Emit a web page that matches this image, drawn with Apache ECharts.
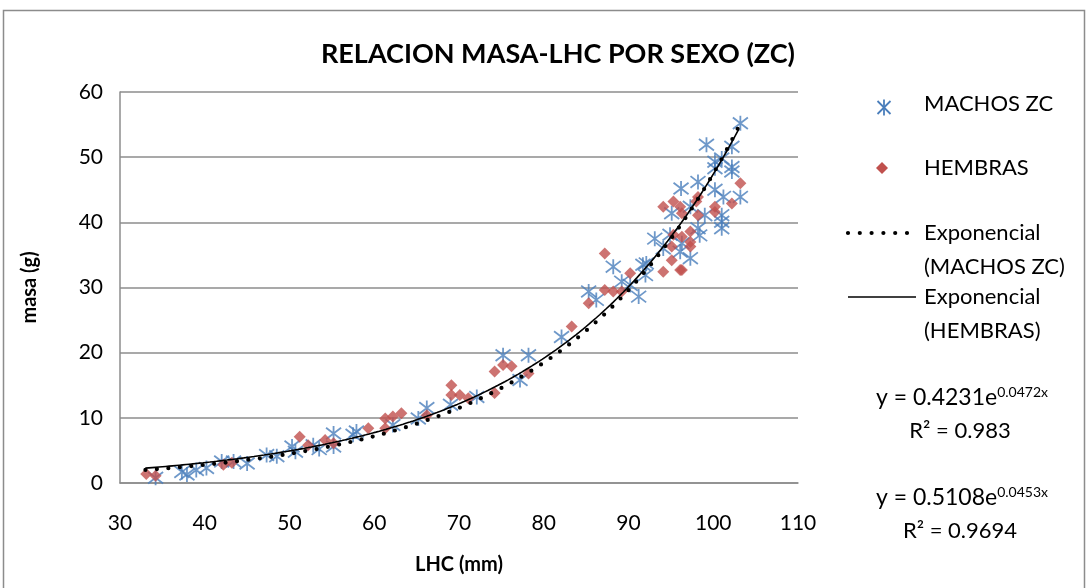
<!DOCTYPE html>
<html>
<head>
<meta charset="utf-8">
<script src="https://cdn.jsdelivr.net/npm/echarts@6/dist/echarts.min.js"></script>
<style>
html,body{margin:0;padding:0;background:#fff;}
#chart{width:1087px;height:588px;}
</style>
</head>
<body>
<div id="chart"></div>
<script>
// ---- Data ----
const machosZC = [
  [34.2,0.8],[37.3,1.7],[37.9,1.3],[39.0,2.0],[40.2,2.3],[42.0,3.3],[43.4,3.3],[45.0,3.0],
  [47.3,4.3],[48.5,4.1],[50.3,5.6],[50.7,4.8],[52.8,5.8],[53.5,5.2],[55.2,7.6],[55.2,5.6],
  [57.5,7.4],[57.9,7.9],[62.2,8.9],[65.2,9.9],[66.2,11.5],[69.0,12.0],[72.1,13.2],[75.2,19.6],
  [77.2,15.8],[78.2,19.6],[82.1,22.4],[85.3,29.4],[86.2,28.1],[88.2,33.2],[89.2,30.9],[90.2,30.4],
  [91.2,28.6],[91.7,33.5],[92.0,31.9],[92.1,33.7],[93.1,37.5],[94.1,36.0],[94.9,38.1],[95.1,41.4],
  [96.1,35.5],[96.2,45.2],[96.3,36.8],[97.3,42.4],[97.3,34.5],[98.2,46.2],[98.2,39.1],[98.4,38.0],
  [99.0,41.1],[99.2,51.9],[100.2,49.3],[100.2,45.0],[100.2,48.3],[101.0,49.8],[101.0,41.1],[101.0,40.1],
  [101.0,39.1],[101.2,43.9],[102.2,51.6],[102.2,48.5],[102.2,47.8],[103.2,55.2],[103.2,43.9]
];
const hembras = [
  [33.1,1.4],[34.2,1.1],[42.2,2.8],[43.2,3.1],[51.2,7.1],[52.2,5.8],[54.2,6.6],[55.2,6.1],
  [59.3,8.4],[61.3,9.9],[61.3,8.4],[62.2,10.2],[63.2,10.7],[66.2,10.4],[69.1,15.0],[69.1,13.5],
  [70.1,13.5],[71.1,13.0],[74.2,17.1],[74.2,13.8],[75.2,18.1],[76.2,17.9],[78.2,16.8],[83.3,24.0],
  [85.3,27.6],[87.2,35.2],[87.2,29.6],[88.2,29.4],[89.2,29.4],[90.2,32.2],[94.1,32.4],[94.1,42.4],
  [95.1,34.2],[95.3,43.2],[95.3,38.1],[95.1,36.3],[96.1,42.4],[96.3,41.4],[96.3,37.8],[96.1,32.7],
  [96.3,32.7],[97.3,38.6],[97.3,37.0],[97.3,36.3],[98.0,43.2],[98.2,43.9],[98.2,41.1],[100.2,42.4],
  [100.2,41.6],[102.2,42.9],[103.2,46.0]
];
// Exponential trendline coefficients as printed on the chart: y = a * e^(b x)
const trendMachos = [0.4231, 0.0472];
const trendHembras = [0.5108, 0.0453];
const trendRange = [33, 103.2];
const xTicks = [30, 40, 50, 60, 70, 80, 90, 100, 110];
const yTicks = [0, 10, 20, 30, 40, 50, 60];
const seriesNames = ['MACHOS ZC', 'HEMBRAS', 'Exponencial (MACHOS ZC)', 'Exponencial (HEMBRAS)'];
const eqTexts = [['y = 0.4231e', '0.0472x', 'R² = 0.983'], ['y = 0.5108e', '0.0453x', 'R² = 0.9694']];

function trendPoints(coef) {
  const pts = [];
  for (let x = trendRange[0]; x <= trendRange[1] + 1e-9; x += 0.4) {
    pts.push([x, coef[0] * Math.exp(coef[1] * x)]);
  }
  return pts;
}

const FONT = 'Lato';
const BLUE = '#4A7EBB';
const RED = '#C0504D';
const STAR = 'path://M0,0L10,10M10,0L0,10M5,-1.5L5,11.5';
const LEG = 22;

const chart = echarts.init(document.getElementById('chart'), null, {renderer: 'canvas'});

function eq(y, t) {
  return {type: 'text', x: 962, y: y, style: {
    text: '{b|' + t[0] + '}{s|' + t[1] + '}', align: 'center', verticalAlign: 'middle', fontFamily: FONT,
    rich: {b: {fontSize: 23, fontFamily: FONT, color: '#000'},
           s: {fontSize: 14, fontFamily: FONT, color: '#000', verticalAlign: 'top', padding: [0, 0, 12, 0]}}}};
}

const option = {
  animation: false,
  backgroundColor: '#fff',
  textStyle: {fontFamily: FONT},
  title: {
    text: 'RELACION MASA-LHC POR SEXO (ZC)',
    left: 553, top: 36, textAlign: 'center',
    textStyle: {fontFamily: FONT, fontWeight: 'bold', fontSize: 27, color: '#000'}
  },
  grid: {left: 120, top: 92, width: 678, height: 391, containLabel: false},
  xAxis: {
    type: 'value', min: 30, max: 110, interval: 10,
    name: 'LHC (mm)', nameLocation: 'middle', nameGap: 72,
    nameTextStyle: {fontFamily: FONT, fontWeight: 'bold', fontSize: 20, color: '#000'},
    axisLine: {show: true, lineStyle: {color: '#8C8C8C', width: 1.5}},
    axisTick: {show: false},
    splitLine: {show: false},
    axisLabel: {fontFamily: FONT, fontSize: 21, color: '#000', margin: 30,
      formatter: v => xTicks.includes(v) ? String(v) : ''}
  },
  yAxis: {
    type: 'value', min: 0, max: 60, interval: 10,
    name: 'masa (g)', nameLocation: 'middle', nameGap: 80, nameRotate: 90,
    nameTextStyle: {fontFamily: FONT, fontWeight: 'bold', fontSize: 20, color: '#000'},
    axisLine: {show: true, lineStyle: {color: '#8C8C8C', width: 1.5}},
    axisTick: {show: false},
    splitLine: {show: true, lineStyle: {color: '#8C8C8C', width: 1.5}},
    axisLabel: {fontFamily: FONT, fontSize: 21, color: '#000', margin: 17,
      formatter: v => yTicks.includes(v) ? String(v) : ''}
  },
  series: [
    {
      name: seriesNames[0], type: 'scatter', data: machosZC,
      symbol: STAR, symbolSize: 15,
      itemStyle: {color: 'rgba(0,0,0,0)', borderColor: BLUE, borderWidth: 1.8},
      z: 2
    },
    {
      name: seriesNames[1], type: 'scatter', data: hembras,
      symbol: 'diamond', symbolSize: [12, 12],
      itemStyle: {color: RED},
      z: 3
    },
    {
      name: seriesNames[2], type: 'line', data: trendPoints(trendMachos),
      showSymbol: false, symbol: 'none', smooth: false,
      lineStyle: {color: '#000', width: 4.2, type: [0, 11.5], cap: 'round'},
      z: 5
    },
    {
      name: seriesNames[3], type: 'line', data: trendPoints(trendHembras),
      showSymbol: false, symbol: 'none', smooth: false,
      lineStyle: {color: '#000', width: 1.6, type: 'solid'},
      z: 4
    }
  ],
  graphic: [
    {type: 'rect', shape: {x: 3.5, y: 10.5, width: 1081, height: 600},
     style: {fill: 'none', stroke: '#8C8C8C', lineWidth: 1.5}, silent: true},
    // legend: star marker
    {type: 'group', left: 875, top: 97, children: [
      {type: 'line', shape: {x1: 0, y1: 0, x2: 13, y2: 13}, style: {stroke: BLUE, lineWidth: 1.8}},
      {type: 'line', shape: {x1: 13, y1: 0, x2: 0, y2: 13}, style: {stroke: BLUE, lineWidth: 1.8}},
      {type: 'line', shape: {x1: 6.5, y1: -1.5, x2: 6.5, y2: 14.5}, style: {stroke: BLUE, lineWidth: 1.8}}
    ]},
    {type: 'text', x: 924, y: 104, style: {text: seriesNames[0], verticalAlign: 'middle', fontFamily: FONT, fontSize: LEG, fill: '#000'}},
    {type: 'polygon', shape: {points: [[882, 162], [888, 168], [882, 174], [876, 168]]}, style: {fill: RED}},
    {type: 'text', x: 924, y: 168, style: {text: seriesNames[1], verticalAlign: 'middle', fontFamily: FONT, fontSize: LEG, fill: '#000'}},
    {type: 'line', shape: {x1: 848, y1: 233, x2: 908, y2: 233},
     style: {stroke: '#000', lineWidth: 4.2, lineDash: [0, 11.8], lineCap: 'round'}},
    {type: 'text', x: 924, y: 233, style: {text: 'Exponencial', verticalAlign: 'middle', fontFamily: FONT, fontSize: LEG, fill: '#000'}},
    {type: 'text', x: 924, y: 267, style: {text: '(MACHOS ZC)', verticalAlign: 'middle', fontFamily: FONT, fontSize: LEG, fill: '#000'}},
    {type: 'line', shape: {x1: 848, y1: 297, x2: 916, y2: 297}, style: {stroke: '#000', lineWidth: 1.6}},
    {type: 'text', x: 924, y: 297, style: {text: 'Exponencial', verticalAlign: 'middle', fontFamily: FONT, fontSize: LEG, fill: '#000'}},
    {type: 'text', x: 924, y: 331, style: {text: '(HEMBRAS)', verticalAlign: 'middle', fontFamily: FONT, fontSize: LEG, fill: '#000'}},
    // equations
    eq(398, eqTexts[0]),
    {type: 'text', x: 960, y: 431, style: {text: eqTexts[0][2], align: 'center', verticalAlign: 'middle', fontFamily: FONT, fontSize: 22, fill: '#000'}},
    eq(498, eqTexts[1]),
    {type: 'text', x: 960, y: 531, style: {text: eqTexts[1][2], align: 'center', verticalAlign: 'middle', fontFamily: FONT, fontSize: 22, fill: '#000'}}
  ]
};
chart.setOption(option);
</script>
</body>
</html>
